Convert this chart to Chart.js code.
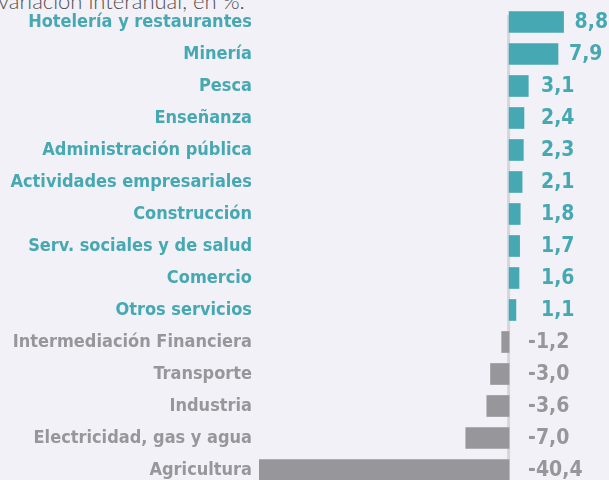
<!DOCTYPE html>
<html lang="es">
<head>
<meta charset="utf-8">
<script src="https://cdn.jsdelivr.net/npm/chart.js@4.4.1/dist/chart.umd.min.js"></script>
<style>
  html, body { margin: 0; padding: 0; background: #f2f1f7; overflow: hidden; }
  #wrap { position: relative; width: 609px; height: 480px; overflow: hidden; }
  #titulo {
    position: absolute; left: -2px; top: -13px; white-space: nowrap;
    font-family: Lato, "Open Sans", sans-serif; font-weight: 300; font-size: 22px; color: #505050;
  }
  #box { position: absolute; left: 0; top: 0; width: 609px; height: 490px; }
</style>
</head>
<body>
<div id="wrap">
  <div id="titulo">variación interanual, en %:</div>
  <div id="box"><canvas id="grafico"></canvas></div>
</div>
<script>
// datos: variación interanual por sector, en %
const sectores = [
  'Hotelería y restaurantes', 'Minería', 'Pesca', 'Enseñanza', 'Administración pública',
  'Actividades empresariales', 'Construcción', 'Serv. sociales y de salud', 'Comercio',
  'Otros servicios', 'Intermediación Financiera', 'Transporte', 'Industria',
  'Electricidad, gas y agua', 'Agricultura'
];
const variacion = [8.8, 7.9, 3.1, 2.4, 2.3, 2.1, 1.8, 1.7, 1.6, 1.1, -1.2, -3.0, -3.6, -7.0, -40.4];

const TEAL = '#45a8b3';
const GRIS = '#97979b';
const FUENTE = '"Liberation Sans Narrow", "DejaVu Sans Condensed", sans-serif';

const colorDe = v => (v >= 0 ? TEAL : GRIS);

// linea vertical del cero + etiquetas de valor
const extras = {
  id: 'extras',
  beforeDatasetsDraw(chart) {
    const { ctx, scales: { x }, chartArea } = chart;
    const x0 = x.getPixelForValue(0);
    ctx.save();
    ctx.fillStyle = '#d6d6da';
    ctx.fillRect(x0 - 2, 15, 3, chartArea.bottom - 15);
    ctx.restore();
  },
  afterDatasetsDraw(chart) {
    const { ctx, scales: { x } } = chart;
    const meta = chart.getDatasetMeta(0);
    ctx.save();
    ctx.font = 'bold 21px ' + FUENTE;
    ctx.textBaseline = 'middle';
    ctx.textAlign = 'left';
    meta.data.forEach((bar, i) => {
      const v = variacion[i];
      const txt = v.toFixed(1).replace('.', ',');
      let px;
      if (v >= 0) px = Math.max(bar.x + 11, 541);
      else px = x.getPixelForValue(0) + 19;
      ctx.fillStyle = colorDe(v);
      ctx.fillText(txt, px, bar.y + 1);
    });
    ctx.restore();
  }
};

new Chart(document.getElementById('grafico'), {
  type: 'bar',
  data: {
    labels: sectores,
    datasets: [{
      data: variacion,
      backgroundColor: variacion.map(colorDe),
      borderWidth: 0,
      barThickness: 21
    }]
  },
  options: {
    indexAxis: 'y',
    responsive: true,
    maintainAspectRatio: false,
    animation: false,
    layout: { padding: { top: 6, bottom: 4, right: 38, left: 0 } },
    plugins: { legend: { display: false }, tooltip: { enabled: false } },
    scales: {
      x: { display: false, min: -40.4, max: 10 },
      y: {
        afterFit(scale) {
          scale.width = 259;
          scale.paddingTop = 0;
          scale.paddingBottom = 0;
        },
        grid: { display: false, drawTicks: false },
        border: { display: false },
        ticks: {
          padding: 7,
          font: { family: FUENTE, size: 18, weight: 'bold' },
          color: ctx => colorDe(variacion[ctx.index])
        }
      }
    }
  },
  plugins: [extras]
});
</script>
</body>
</html>
